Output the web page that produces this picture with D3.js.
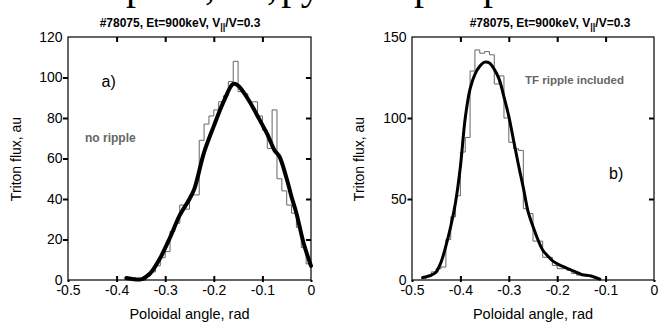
<!DOCTYPE html>
<html>
<head>
<meta charset="utf-8">
<script src="https://cdn.jsdelivr.net/npm/d3@7"></script>
<style>
  body { margin: 0; background: #fff; }
  svg { display: block; font-family: "Liberation Sans", Arial, sans-serif; }
</style>
</head>
<body>
<div id="root"></div>
<script>
const binWidth = 0.01;

// panel a) : no ripple
const histA_x = [-0.38,-0.37,-0.36,-0.35,-0.34,-0.33,-0.32,-0.31,-0.30,-0.29,-0.28,-0.27,-0.26,-0.25,-0.24,-0.23,-0.22,-0.21,-0.20,-0.19,
                 -0.18,-0.17,-0.16,-0.15,-0.14,-0.13,-0.12,-0.11,-0.10,-0.09,-0.08,-0.07,-0.06,-0.05,-0.04,-0.03,-0.02,-0.01];
const histA_y = [1,1,0,0,2,4,7,11,14,24,28,37,35,42,42,69,77,81,84,88,
                 91,98,108,93,92,88,88,81,74,65,84,50,44,37,33,26,16,8];
const fitA_x = [-0.38,-0.37,-0.36,-0.35,-0.34,-0.33,-0.31,-0.29,-0.27,-0.25,-0.24,-0.22,-0.20,-0.18,-0.16,-0.15,-0.13,-0.11,-0.09,-0.075,-0.065,-0.05,-0.04,-0.03,-0.015,0];
const fitA_y = [1,0.6,0.3,0.3,1.5,3.5,11,21,32,40,45,63,76,88,96.8,96,89.5,81,72,64,61,50,41,33,18,7];

// panel b) : TF ripple included
const histB_x = [-0.48,-0.47,-0.46,-0.45,-0.44,-0.43,-0.42,-0.41,-0.40,-0.39,-0.38,-0.37,-0.36,-0.35,-0.34,-0.33,-0.32,-0.31,-0.30,
                 -0.29,-0.28,-0.27,-0.26,-0.25,-0.24,-0.23,-0.22,-0.21,-0.20,-0.19,-0.18,-0.17,-0.16,-0.15,-0.14,-0.13,-0.12];
const histB_y = [1,2,5,7,8,25,39,52,79,88,129,142,140,141,139,121,126,100,85,
                 81,80,44,41,24,24,14,14,9,7,7,6,4,3,2.5,2.5,2,1];
const fitB_x = [-0.478,-0.46,-0.45,-0.44,-0.43,-0.42,-0.41,-0.40,-0.39,-0.38,-0.37,-0.36,-0.35,-0.34,-0.33,-0.32,-0.31,-0.30,-0.29,-0.28,
                -0.27,-0.26,-0.25,-0.24,-0.23,-0.22,-0.21,-0.20,-0.19,-0.17,-0.15,-0.13,-0.112];
const fitB_y = [1.5,3,5,11,21,33,48,70,100,118,127,132,134.5,134,130,124,113,101,86,71,
                57,42,33,25,18.5,15,12,10,8.5,6,3.5,2.5,0.5];

const xTicks = [-0.5,-0.4,-0.3,-0.2,-0.1,0];
const yTicksA = [0,20,40,60,80,100,120];
const yTicksB = [0,50,100,150];

const svg = d3.select("#root").append("svg")
  .attr("width", 659)
  .attr("height", 322);

// cut-off line of text above the figure
const topGlyphs = [["р",136],[",",210],[",",272],["ру",301],["р",424],["р",493]];
svg.selectAll("text.cut")
  .data(topGlyphs)
  .enter().append("text")
  .attr("class", "cut")
  .attr("x", d => d[1])
  .attr("y", -1)
  .attr("text-anchor", "middle")
  .style("font-family", "'Liberation Serif', 'Times New Roman', serif")
  .style("font-size", "40px")
  .text(d => d[0]);

function drawPanel(p) {
  const x = d3.scaleLinear().domain([-0.5, 0]).range([p.left, p.right]);
  const y = d3.scaleLinear().domain([0, p.yMax]).range([p.bottom, p.top]);
  const g = svg.append("g");

  // histogram as step line
  const steps = p.hx.map((v, i) => [v, p.hy[i]]);
  steps.push([p.hx[p.hx.length - 1] + binWidth, p.hy[p.hy.length - 1]]);
  g.append("path")
    .attr("d", d3.line().x(d => x(d[0])).y(d => y(d[1])).curve(d3.curveStepAfter)(steps))
    .attr("fill", "none")
    .attr("stroke", "#666")
    .attr("stroke-width", 1);

  // smooth fit
  const fit = p.fx.map((v, i) => [v, p.fy[i]]);
  g.append("path")
    .attr("d", d3.line().x(d => x(d[0])).y(d => y(d[1])).curve(d3.curveCatmullRom.alpha(0.5))(fit))
    .attr("fill", "none")
    .attr("stroke", "#000")
    .attr("stroke-width", p.fitWidth)
    .attr("stroke-linejoin", "round")
    .attr("stroke-linecap", "round");

  // frame
  g.append("rect")
    .attr("x", p.left).attr("y", p.top)
    .attr("width", p.right - p.left).attr("height", p.bottom - p.top)
    .attr("fill", "none").attr("stroke", "#000").attr("stroke-width", 1.2);

  const styleAxis = sel => {
    sel.select(".domain").remove();
    sel.selectAll("line").attr("stroke", "#000").attr("stroke-width", 2);
    sel.selectAll("text").attr("fill", "#000").style("font-size", "14px")
      .style("font-family", "'Liberation Sans', Arial, sans-serif");
  };

  // bottom: labels and tick part below the axis
  g.append("g").attr("transform", `translate(0,${p.bottom})`)
    .call(d3.axisBottom(x).tickValues(xTicks).tickFormat(d => d === 0 ? "0" : d3.format(".1f")(d).replace("−", "-"))
      .tickSizeInner(2).tickSizeOuter(0).tickPadding(3))
    .call(styleAxis);
  g.append("g").attr("transform", `translate(0,${p.bottom})`)
    .call(d3.axisBottom(x).tickValues(xTicks.slice(1, -1)).tickFormat("").tickSizeInner(-4).tickSizeOuter(0))
    .call(styleAxis);
  // top: inner ticks
  g.append("g").attr("transform", `translate(0,${p.top})`)
    .call(d3.axisTop(x).tickValues(xTicks.slice(1, -1)).tickFormat("").tickSizeInner(-5).tickSizeOuter(0))
    .call(styleAxis);
  // left: labels
  g.append("g").attr("transform", `translate(${p.left},0)`)
    .call(d3.axisLeft(y).tickValues(p.yTicks).tickSizeInner(p.leftTick).tickSizeOuter(0).tickPadding(5 - p.leftTick + 0.5))
    .call(styleAxis)
    .call(s => s.selectAll(".tick").filter(d => d === 0 || d === p.yMax).select("line").remove());
  // right: inner ticks
  g.append("g").attr("transform", `translate(${p.right},0)`)
    .call(d3.axisRight(y).tickValues(p.yTicks.slice(1, -1)).tickFormat("").tickSizeInner(-5).tickSizeOuter(0))
    .call(styleAxis);

  // title
  const t = g.append("text")
    .attr("x", p.titleX).attr("y", 27)
    .attr("text-anchor", "middle")
    .style("font-size", "12px").style("font-weight", "bold");
  t.append("tspan").text("#78075, Et=900keV, V");
  t.append("tspan").attr("dy", 3).style("font-size", "9px").text("||");
  t.append("tspan").attr("dy", -3).text("/V=0.3");

  // axis titles
  g.append("text")
    .attr("x", (p.left + p.right) / 2).attr("y", 319)
    .attr("text-anchor", "middle")
    .style("font-size", "14.5px")
    .text("Poloidal angle, rad");
  g.append("text")
    .attr("transform", `translate(${p.yLabelX},159) rotate(-90)`)
    .attr("text-anchor", "middle")
    .style("font-size", "14px")
    .text("Triton flux, au");

  // annotations
  g.append("text")
    .attr("x", p.tag[0]).attr("y", p.tag[1])
    .style("font-size", "16px")
    .text(p.tag[2]);
  g.append("text")
    .attr("x", p.note[0]).attr("y", p.note[1])
    .style("font-size", p.note[3]).style("font-weight", "bold").attr("fill", "#666")
    .text(p.note[2]);
}

drawPanel({
  left: 68, right: 311, top: 37, bottom: 280, yMax: 120,
  hx: histA_x, hy: histA_y, fx: fitA_x, fy: fitA_y, fitWidth: 4,
  yTicks: yTicksA, leftTick: 5, titleX: 180, yLabelX: 21,
  tag: [101.5, 87, "a)"], note: [85, 142, "no ripple", "12px"]
});

drawPanel({
  left: 412, right: 654, top: 37, bottom: 280, yMax: 150,
  hx: histB_x, hy: histB_y, fx: fitB_x, fy: fitB_y, fitWidth: 3,
  yTicks: yTicksB, leftTick: 4.5, titleX: 550, yLabelX: 364,
  tag: [609, 179, "b)"], note: [525, 84, "TF ripple included", "11.5px"]
});
</script>
</body>
</html>
